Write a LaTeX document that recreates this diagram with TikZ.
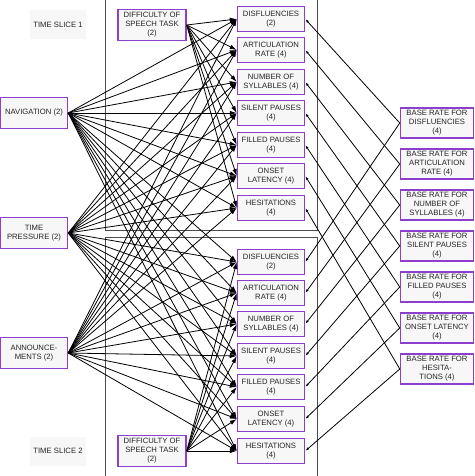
\documentclass[tikz,border=0pt]{standalone}
\usepackage{fontspec}
\setmainfont{Liberation Sans}
\usetikzlibrary{arrows.meta}
\definecolor{boxpurple}{RGB}{140,62,205}
\definecolor{boxfill}{RGB}{247,247,247}

\begin{document}
\begin{tikzpicture}[x=1pt, y=-1pt, line width=0.8pt,
    main/.style = {draw=boxpurple, line width=1.5pt, fill=boxfill, inner sep=0pt,
      align=center, text=black!85, font=\fontsize{7.7}{9}\selectfont},
    mid/.style = {main, minimum width=67pt, minimum height=25pt},
    base/.style = {main, minimum width=73pt, minimum height=30pt},
    slice/.style = {fill=black!3, minimum width=53pt, minimum height=29pt,
      text=black!85, font=\fontsize{7.7}{9}\selectfont},
    arr/.style = {-{Latex[length=7pt,width=4.5pt]}},
    barr/.style = {-{Latex[length=4pt,width=2.5pt]}}]
    \useasboundingbox (0,0) rectangle (474,476);
    % the two time slice frames
    \draw[black!70] (105,0) -- (105,230) -- (317,230) -- (317,0);
    \draw[black!70] (105,476) -- (105,237) -- (317,237) -- (317,476);

    \node[slice] (s1) at (58,25) {TIME SLICE 1};
    \node[slice] (s2) at (58,451) {TIME SLICE 2};

    \node[main, minimum width=67pt, minimum height=31pt] (nav) at (34,113) {NAVIGATION (2)};
    \node[main, minimum width=67pt, minimum height=31pt] (tp) at (34,233) {TIME\\PRESSURE (2)};
    \node[main, minimum width=67pt, minimum height=31pt] (ann) at (34,353) {ANNOUNCE-\\MENTS (2)};

    \node[main, minimum width=68pt, minimum height=31pt] (d1) at (152,25) {DIFFICULTY OF\\SPEECH TASK\\(2)};
    \node[main, minimum width=68pt, minimum height=31pt] (d2) at (152,451) {DIFFICULTY OF\\SPEECH TASK\\(2)};

    % outcomes, time slice 1 and 2
    \foreach \i/\t/\ya/\yb in {1/{DISFLUENCIES\\(2)}/19/262, 2/{ARTICULATION\\RATE (4)}/50/293,
        3/{NUMBER OF\\SYLLABLES (4)}/82/324, 4/{SILENT PAUSES\\(4)}/113/356,
        5/{FILLED PAUSES\\(4)}/145/387, 6/{ONSET\\LATENCY (4)}/176/419,
        7/{HESITATIONS\\(4)}/208/451} {
        \node[mid] (a\i) at (271,\ya) {\t};
        \node[mid] (b\i) at (271,\yb) {\t};
    }

    % base rates
    \node[base] (r1) at (437,123) {BASE RATE FOR\\DISFLUENCIES\\(4)};
    \node[base] (r2) at (437,164) {BASE RATE FOR\\ARTICULATION\\RATE (4)};
    \node[base] (r3) at (437,205) {BASE RATE FOR\\NUMBER OF\\SYLLABLES (4)};
    \node[base] (r4) at (437,246) {BASE RATE FOR\\SILENT PAUSES\\(4)};
    \node[base] (r5) at (437,287) {BASE RATE FOR\\FILLED PAUSES\\(4)};
    \node[base] (r6) at (437,328) {BASE RATE FOR\\ONSET LATENCY\\(4)};
    \node[base] (r7) at (437,369) {BASE RATE FOR\\HESITA-\\TIONS (4)};

    \foreach \i in {1,...,7} {
        \foreach \s in {nav,tp,ann} {
            \draw[arr] (\s.east) -- (a\i.west);
            \draw[arr] (\s.east) -- (b\i.west);
        }
        \draw[arr] (d1.east) -- (a\i.west);
        \draw[arr] (d2.east) -- (b\i.west);
        \draw[barr] (r\i.west) -- (a\i.east);
        \draw[barr] (r\i.west) -- (b\i.east);
    }
\end{tikzpicture}
\end{document}
